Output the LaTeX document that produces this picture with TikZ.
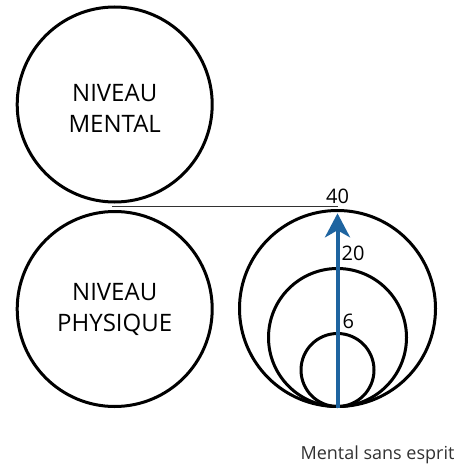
\documentclass[tikz,border=0pt]{standalone}
\usepackage{fontspec}
\setmainfont{Open Sans}
\usetikzlibrary{arrows.meta}
\usetikzlibrary{calc}
\definecolor{arrowblue}{RGB}{30,100,160}
\definecolor{labelgray}{RGB}{50,50,50}

\begin{document}
\begin{tikzpicture}[x=1pt, y=-1pt,
  level/.style={circle, draw, line width=3pt, minimum size=195pt, inner sep=0pt, align=center, font=\fontsize{24}{31}\selectfont},
  ring/.style={circle, draw, line width=3pt, inner sep=0pt},
  num/.style={font=\fontsize{20}{24}\selectfont, inner sep=0pt, anchor=base}]
\useasboundingbox (0,0) rectangle (461,465);
% niveaux
\node[level] (mental) at (114.7,104.5) {\rule{0pt}{25pt}NIVEAU\\MENTAL};
\node[level] (physique) at (114.7,309) {NIVEAU\\PHYSIQUE};
% cercles emboites
\node[ring, minimum size=196pt] (big) at (337.5,308.5) {};
\node[ring, minimum size=138pt] (mid) at (337.5,337.5) {};
\node[ring, minimum size=73pt] (small) at (337.5,370) {};
% seuil
\coordinate (seuilL) at (112,206.7);
\coordinate (seuil) at (337.5,206.7);
\draw[line width=1.5pt, labelgray] (seuilL) -- (seuil);
% fleche
\coordinate (tip) at (337.5,213.3);
\draw[line width=4pt, arrowblue, -{Stealth[length=24pt, width=25pt, inset=7pt]}] (big.south) -- (tip);
\node[num] (n40) at ($(big.north)+(0,-6)$) {40};
\node[num, anchor=base west] (n20) at ($(mid.north)+(4,-7)$) {20};
\node[num, anchor=base west] (n6) at ($(small.north)+(5,-4)$) {6};
\node[font=\fontsize{18}{22}\selectfont, text=labelgray, anchor=base] (legende) at (377.5,459) {Mental sans esprit};
\end{tikzpicture}
\end{document}
